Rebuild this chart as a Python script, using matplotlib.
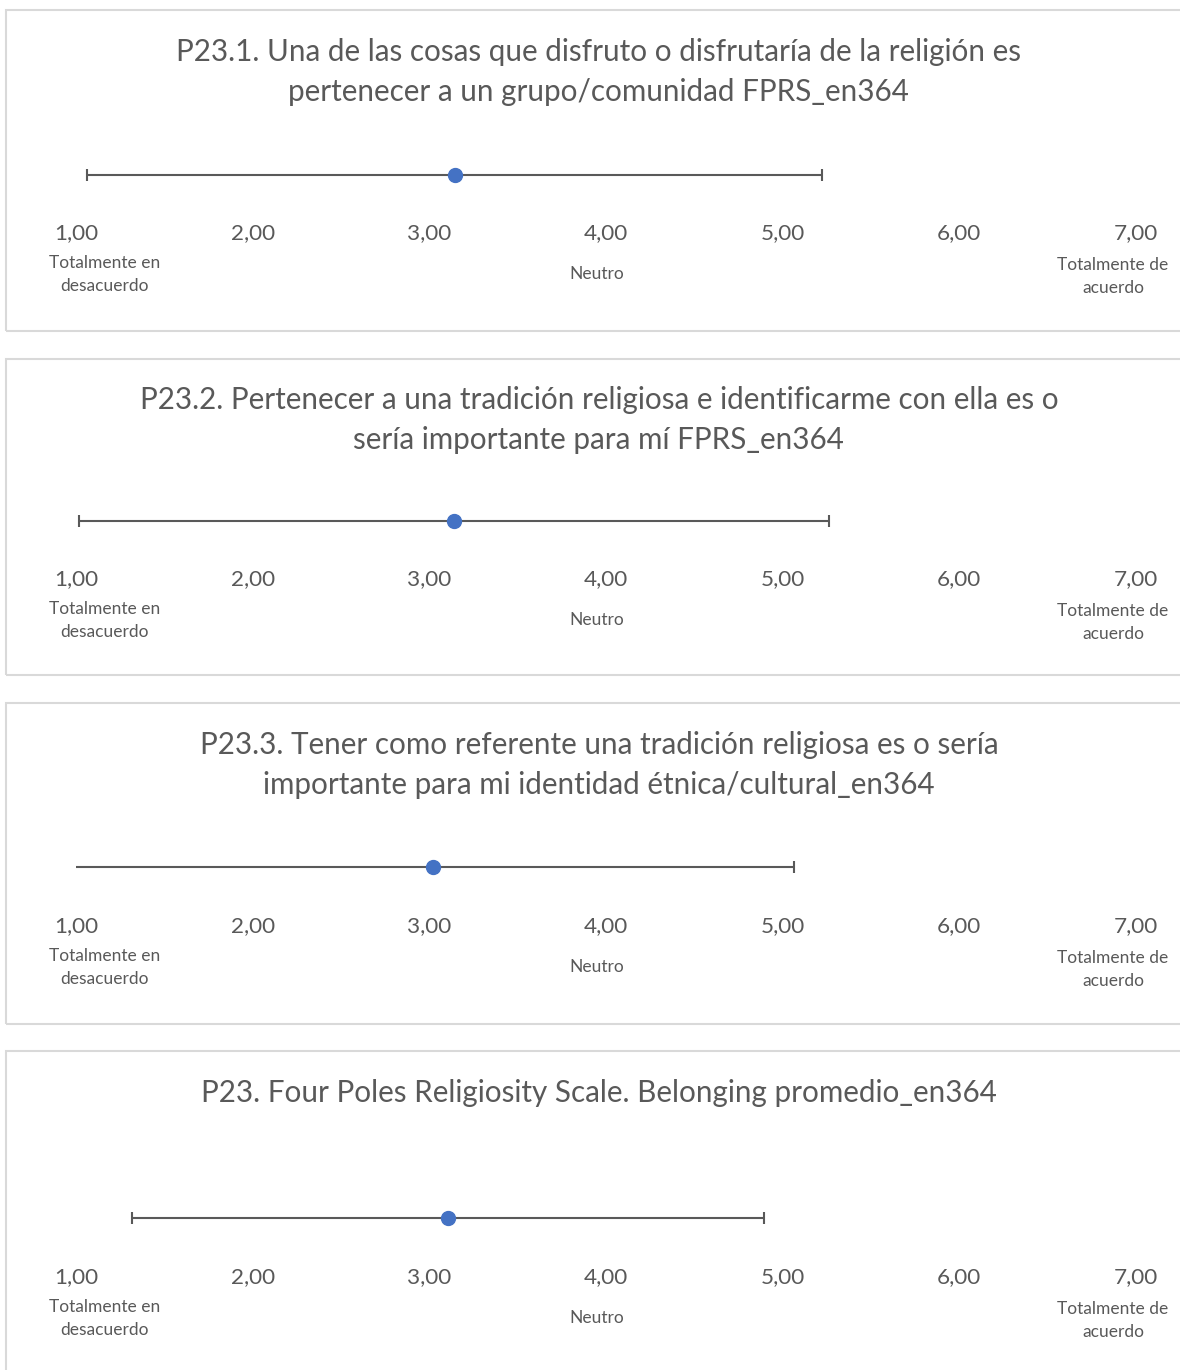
import numpy as np
import matplotlib
matplotlib.use('Agg')
import matplotlib.pyplot as plt
from matplotlib.patches import Rectangle

plt.rcParams['font.family'] = ['Lato', 'DejaVu Sans']

# chart data
titles = [
    "P23.1. Una de las cosas que disfruto o disfrutaría de la religión es\npertenecer a un grupo/comunidad FPRS_en364",
    "P23.2. Pertenecer a una tradición religiosa e identificarme con ella es o\nsería importante para mí FPRS_en364",
    "P23.3. Tener como referente una tradición religiosa es o sería\nimportante para mi identidad étnica/cultural_en364",
    "P23. Four Poles Religiosity Scale. Belonging promedio_en364",
]
means = [3.145, 3.14, 3.02, 3.105]
sds = [2.08, 2.125, 2.045, 1.79]
scale_ticks = [1, 2, 3, 4, 5, 6, 7]
tick_labels = ["1,00", "2,00", "3,00", "4,00", "5,00", "6,00", "7,00"]
anchor_labels = {1: "Totalmente en\ndesacuerdo", 4: "Neutro", 7: "Totalmente de\nacuerdo"}

# layout in pixels (top, bottom, title centre, bar offset, tick offset)
W, H = 1180, 1370
panels = [
    (10, 331, 62, 165, 223),
    (359, 675, 61, 162, 220),
    (703, 1024, 62, 164, 223),
    (1051, 1372, 42, 167, 226),
]
X1, X7 = 76, 1136

TXT = '#595959'
BORDER = '#D9D9D9'
DOT = '#4472C4'

fig = plt.figure(figsize=(W / 100, H / 100), dpi=100)

for i, (top, bot, ty, by, tky) in enumerate(panels):
    fig.add_artist(Rectangle((6 / W, 1 - bot / H), (W + 10) / W, (bot - top) / H,
                             transform=fig.transFigure, fill=False,
                             edgecolor=BORDER, linewidth=1.5))
    ax = fig.add_axes([X1 / W, 1 - bot / H, (X7 - X1) / W, (bot - top) / H])
    ax.set_xlim(1, 7)
    ax.set_ylim(bot - top, 0)
    ax.axis('off')

    ax.errorbar([means[i]], [by], xerr=[sds[i]], fmt='o', color=DOT,
                markersize=10, ecolor='#595959', elinewidth=1.5,
                capsize=4.5, capthick=1.5, zorder=3)

    ax.text(3.96, ty, titles[i], ha='center', va='center', fontsize=21.3,
            color=TXT, linespacing=1.53)

    for v, lab in zip(scale_ticks, tick_labels):
        ax.text(v, tky, lab, ha='center', va='center', fontsize=16.2, color=TXT)

    ax.text(1.16, tky + 41.5, anchor_labels[1], ha='center', va='center',
            fontsize=12.5, color=TXT, linespacing=1.6)
    ax.text(3.95, tky + 41, anchor_labels[4], ha='center', va='center',
            fontsize=12.5, color=TXT)
    ax.text(6.87, tky + 43.5, anchor_labels[7], ha='center', va='center',
            fontsize=12.5, color=TXT, linespacing=1.6)

fig.savefig('out.png', dpi=100, facecolor='white')
